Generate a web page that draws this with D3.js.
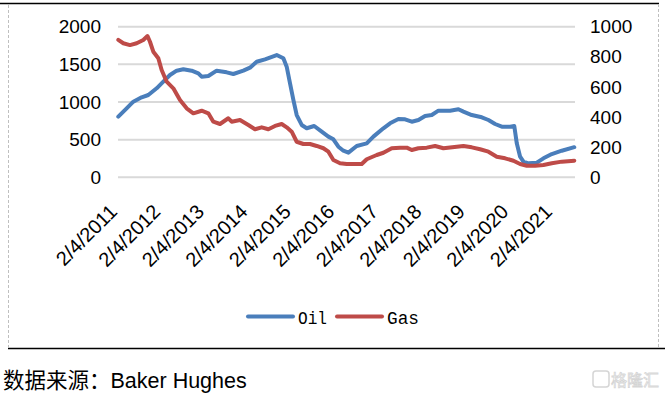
<!DOCTYPE html>
<html><head><meta charset="utf-8">
<script src="https://cdn.jsdelivr.net/npm/d3@7"></script>
<style>
html,body{margin:0;padding:0;background:#fff;}
svg{display:block;}
</style></head>
<body>
<svg id="chart" width="665" height="393"></svg>
<script>
// ---- data ----
const oilDates = ["2011-02-04","2011-04-15","2011-06-10","2011-08-19","2011-10-14","2011-12-23","2012-02-17","2012-04-13","2012-06-08","2012-08-03","2012-10-12","2012-12-07","2013-01-04","2013-03-01","2013-05-10","2013-08-02","2013-09-27","2013-12-20","2014-02-14","2014-04-11","2014-06-20","2014-09-26","2014-11-21","2014-12-19","2015-01-16","2015-02-13","2015-03-13","2015-04-24","2015-06-05","2015-08-07","2015-10-09","2015-12-04","2016-01-15","2016-02-26","2016-04-08","2016-05-20","2016-07-29","2016-10-21","2016-12-16","2017-03-10","2017-05-05","2017-07-14","2017-09-08","2017-11-03","2017-12-29","2018-02-23","2018-04-20","2018-06-15","2018-09-21","2018-11-30","2019-01-11","2019-03-22","2019-06-14","2019-08-09","2019-10-04","2019-11-29","2020-02-07","2020-03-13","2020-04-03","2020-05-01","2020-05-29","2020-07-10","2020-09-18","2020-11-13","2021-01-22","2021-04-16","2021-07-30"];
const oilValues = [805,916,1004,1062,1093,1182,1270,1358,1416,1434,1416,1381,1336,1345,1416,1394,1372,1416,1456,1535,1567,1624,1580,1469,1248,1027,827,695,651,681,606,540,505,406,353,327,416,451,540,651,717,774,770,738,761,814,827,885,885,903,872,827,797,761,708,672,672,681,451,274,207,186,194,252,309,353,400];

const gasDates = ["2011-02-04","2011-03-18","2011-05-13","2011-07-08","2011-09-02","2011-10-07","2011-10-28","2011-11-25","2012-01-06","2012-02-03","2012-03-16","2012-05-11","2012-07-06","2012-08-31","2012-10-26","2013-01-04","2013-03-01","2013-04-12","2013-06-07","2013-08-16","2013-09-13","2013-11-22","2014-01-31","2014-03-28","2014-05-23","2014-07-18","2014-09-12","2014-11-07","2014-12-19","2015-01-30","2015-03-13","2015-05-08","2015-07-03","2015-08-28","2015-10-23","2015-12-04","2016-01-15","2016-03-11","2016-05-06","2016-07-29","2016-09-09","2016-10-21","2017-01-13","2017-03-10","2017-05-19","2017-07-28","2017-09-22","2017-11-03","2017-12-29","2018-03-09","2018-05-18","2018-07-27","2018-11-16","2019-01-11","2019-03-22","2019-05-31","2019-08-09","2019-10-18","2019-12-27","2020-03-06","2020-05-01","2020-06-26","2020-09-04","2020-11-13","2021-01-22","2021-04-16","2021-07-30"];
const gasValues = [912,890,878,890,912,938,900,834,790,712,635,591,513,458,425,442,425,369,354,392,369,380,347,319,332,319,341,354,332,303,236,221,221,208,193,170,115,93,88,88,88,120,148,163,193,197,197,181,193,197,208,193,203,208,199,186,170,137,126,110,88,77,77,82,93,104,110];

const leftTicks = [0,500,1000,1500,2000];
const rightTicks = [0,200,400,600,800,1000];
const xTickDates = ["2011-02-04","2012-02-04","2013-02-04","2014-02-04","2015-02-04","2016-02-04","2017-02-04","2018-02-04","2019-02-04","2020-02-04","2021-02-04"];
const xTickLabels = ["2/4/2011","2/4/2012","2/4/2013","2/4/2014","2/4/2015","2/4/2016","2/4/2017","2/4/2018","2/4/2019","2/4/2020","2/4/2021"];
const seriesNames = ["Oil","Gas"];
const seriesColors = ["#4a7ebb","#be4b48"];

// ---- drawing ----
const parse = d3.timeParse("%Y-%m-%d");
const svg = d3.select("#chart");
svg.append("rect").attr("width",665).attr("height",393).attr("fill","#fff");

// frame
svg.append("line").attr("x1",0).attr("x2",659).attr("y1",3.5).attr("y2",3.5).attr("stroke","#000").attr("stroke-width",1.5);
svg.append("line").attr("x1",8).attr("x2",665).attr("y1",348.5).attr("y2",348.5).attr("stroke","#000").attr("stroke-width",1.5);
svg.append("line").attr("x1",8.5).attr("x2",8.5).attr("y1",5).attr("y2",348).attr("stroke","#bfbfbf").attr("stroke-dasharray","3,2");
svg.append("line").attr("x1",658.5).attr("x2",658.5).attr("y1",4).attr("y2",348).attr("stroke","#bfbfbf").attr("stroke-dasharray","3,2");

const x = d3.scaleTime().domain([parse("2011-02-04"), parse("2021-07-30")]).range([118.3, 574.3]);
const yL = d3.scaleLinear().domain([0,2000]).range([177.3, 26.7]);
const yR = d3.scaleLinear().domain([0,1000]).range([177.3, 26.7]);

// gridlines
svg.append("g").selectAll("line").data(leftTicks).join("line")
  .attr("x1",118).attr("x2",575)
  .attr("y1",d=>yL(d)).attr("y2",d=>yL(d))
  .attr("stroke","#d9d9d9").attr("stroke-width",2);

const fmt = d3.format("d");
// left axis
const gl = svg.append("g").attr("transform","translate(101,0)")
  .call(d3.axisLeft(yL).tickValues(leftTicks).tickFormat(fmt).tickSize(0).tickPadding(0));
gl.select(".domain").remove();
gl.selectAll("text").attr("font-family","'Liberation Sans', Arial, sans-serif").attr("font-size","19px").attr("fill","#000");

// right axis
const gr = svg.append("g").attr("transform","translate(590,0)")
  .call(d3.axisRight(yR).tickValues(rightTicks).tickFormat(fmt).tickSize(0).tickPadding(0));
gr.select(".domain").remove();
gr.selectAll("text").attr("font-family","'Liberation Sans', Arial, sans-serif").attr("font-size","19px").attr("fill","#000");

// x tick labels
svg.append("g").selectAll("text").data(xTickDates).join("text")
  .attr("transform",d=>`translate(${x(parse(d))-5},208) rotate(-45)`)
  .attr("text-anchor","end").attr("dy","0.35em")
  .attr("font-family","'Liberation Sans', Arial, sans-serif").attr("font-size","20px").attr("fill","#000")
  .text((d,i)=>xTickLabels[i]);

// lines
const oil = oilDates.map((d,i)=>({date:parse(d), v:oilValues[i]}));
const gas = gasDates.map((d,i)=>({date:parse(d), v:gasValues[i]}));
svg.append("path").datum(oil)
  .attr("d", d3.line().x(d=>x(d.date)).y(d=>yL(d.v)))
  .attr("fill","none").attr("stroke",seriesColors[0]).attr("stroke-width",4).attr("stroke-linejoin","round").attr("stroke-linecap","round");
svg.append("path").datum(gas)
  .attr("d", d3.line().x(d=>x(d.date)).y(d=>yR(d.v)))
  .attr("fill","none").attr("stroke",seriesColors[1]).attr("stroke-width",4).attr("stroke-linejoin","round").attr("stroke-linecap","round");

// legend
const legendX = [248, 337];
const legendTW = [29, 32];
const lg = svg.append("g");
seriesNames.forEach((name,i)=>{
  lg.append("line").attr("x1",legendX[i]).attr("x2",legendX[i]+45).attr("y1",316.5).attr("y2",316.5)
    .attr("stroke",seriesColors[i]).attr("stroke-width",4).attr("stroke-linecap","round");
  lg.append("text").attr("x",legendX[i]+50).attr("y",324)
    .attr("font-family","'Liberation Mono', 'DejaVu Sans Mono', monospace").attr("font-size","19px").attr("fill","#000")
    .attr("textLength",legendTW[i]).attr("lengthAdjust","spacingAndGlyphs")
    .text(name);
});

// source
svg.append("text").attr("x",3).attr("y",388)
  .attr("font-family","'Liberation Sans', 'Noto Sans CJK SC', sans-serif").attr("font-size","21.5px").attr("fill","#000")
  .text("数据来源：Baker Hughes");

// watermark
const wm = svg.append("g").attr("opacity",0.35);
wm.append("rect").attr("x",593).attr("y",371).attr("width",16).attr("height",16).attr("rx",3)
  .attr("fill","none").attr("stroke","#888").attr("stroke-width",1.5);
wm.append("text").attr("x",611).attr("y",386)
  .attr("font-family","'Noto Sans CJK SC', sans-serif").attr("font-size","16px").attr("fill","none").attr("stroke","#888").attr("stroke-width",0.8)
  .text("格隆汇");
</script>
</body></html>
